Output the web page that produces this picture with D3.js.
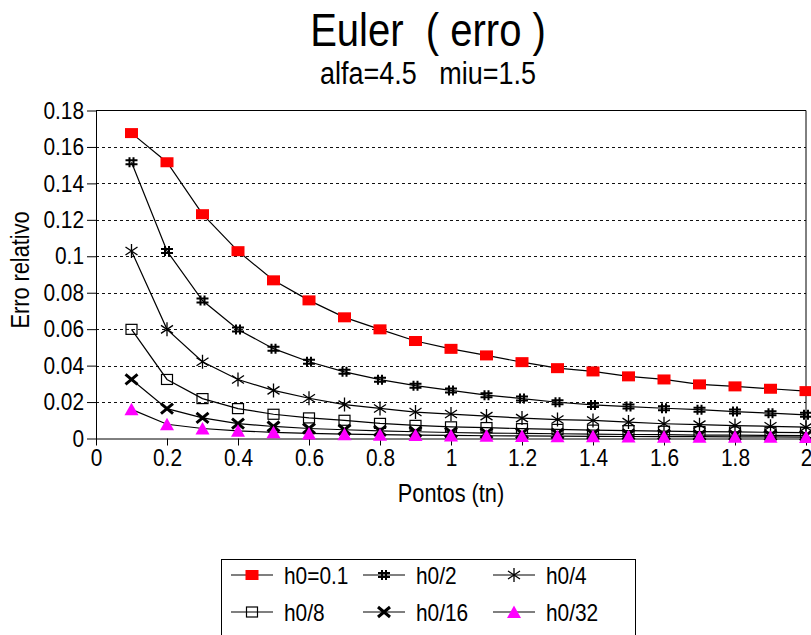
<!DOCTYPE html>
<html>
<head>
<meta charset="utf-8">
<script src="https://cdn.jsdelivr.net/npm/d3@7"></script>
<style>
  html, body { margin: 0; padding: 0; background: #fff; }
  svg { display: block; font-family: "Liberation Sans", Arial, sans-serif; }
</style>
</head>
<body>
<svg id="chart" width="811" height="635"></svg>
<script>
// Time points t_n
const tn = [0.1, 0.2, 0.3, 0.4, 0.5, 0.6, 0.7, 0.8, 0.9, 1.0,
            1.1, 1.2, 1.3, 1.4, 1.5, 1.6, 1.7, 1.8, 1.9, 2.0];

// Relative error of the Euler method for each step size
const errH0 = [0.1676, 0.1516, 0.1231, 0.1028, 0.0868, 0.0758, 0.0665, 0.0599, 0.0535, 0.0492,
               0.0456, 0.0419, 0.0386, 0.0368, 0.0341, 0.0324, 0.0297, 0.0286, 0.0273, 0.0260];
const errH2 = [0.1516, 0.1029, 0.0757, 0.0598, 0.0493, 0.0421, 0.0366, 0.0323, 0.0290, 0.0264,
               0.0238, 0.0219, 0.0199, 0.0184, 0.0175, 0.0166, 0.0158, 0.0148, 0.0139, 0.0130];
const errH4 = [0.1029, 0.0599, 0.0421, 0.0324, 0.0264, 0.0221, 0.0186, 0.0165, 0.0145, 0.0134,
               0.0123, 0.0112, 0.0104, 0.0099, 0.0090, 0.0081, 0.0076, 0.0071, 0.0067, 0.0062];
const errH8 = [0.0599, 0.0324, 0.0219, 0.0164, 0.0133, 0.0113, 0.0100, 0.0083, 0.0072, 0.0064,
               0.0060, 0.0054, 0.0050, 0.0046, 0.0043, 0.0040, 0.0038, 0.0036, 0.0034, 0.0032];
const errH16 = [0.0324, 0.0164, 0.0113, 0.0082, 0.0066, 0.0055, 0.0048, 0.0042, 0.0037, 0.0033,
                0.0030, 0.0028, 0.0026, 0.0024, 0.0022, 0.0021, 0.0019, 0.0018, 0.0017, 0.0016];
const errH32 = [0.0160, 0.0078, 0.0055, 0.0042, 0.0034, 0.0028, 0.0024, 0.0021, 0.0019, 0.0017,
                0.0015, 0.0014, 0.0013, 0.0012, 0.0011, 0.0010, 0.0010, 0.0009, 0.0009, 0.0008];

const seriesNames = ["h0=0.1", "h0/2", "h0/4", "h0/8", "h0/16", "h0/32"];
const markerKinds = ["rect", "hash", "star", "square", "cross", "triangle"];

const xTicks = [0, 0.2, 0.4, 0.6, 0.8, 1, 1.2, 1.4, 1.6, 1.8, 2];
const yTicks = [0, 0.02, 0.04, 0.06, 0.08, 0.1, 0.12, 0.14, 0.16, 0.18];

const series = [errH0, errH2, errH4, errH8, errH16, errH32].map((vals, i) => ({
  name: seriesNames[i],
  kind: markerKinds[i],
  points: vals.map((v, j) => ({ t: tn[j], e: v }))
}));

const svg = d3.select("#chart");

const x = d3.scaleLinear().domain([0, 2]).range([96, 806]);
const y = d3.scaleLinear().domain([0, 0.18]).range([438.5, 110.5]);

// Narrow text: a regular face squeezed horizontally
const SQ = 0.87;
function label(parent, px, py, str, size, anchor, rot) {
  return parent.append("text")
    .attr("transform", `translate(${px},${py})${rot ? ` rotate(${rot})` : ""} scale(${SQ},1)`)
    .attr("text-anchor", anchor || "start")
    .attr("font-size", size)
    .style("white-space", "pre")
    .text(str);
}

// Titles
label(svg, 428, 46, "Euler  ( erro )", 46, "middle");
label(svg, 428, 84, "alfa=4.5   miu=1.5", 31, "middle");

// Horizontal dashed gridlines
svg.append("g")
  .selectAll("line")
  .data(yTicks.filter(d => d > 0 && d < 0.18))
  .join("line")
  .attr("x1", x(0)).attr("x2", x(2))
  .attr("y1", d => Math.round(y(d)) + 0.5).attr("y2", d => Math.round(y(d)) + 0.5)
  .attr("stroke", "#111")
  .attr("stroke-dasharray", "3,3");

// Plot frame (top and right)
svg.append("path")
  .attr("d", `M${x(0)},${y(0.18)}H${x(2)}V${y(0)}`)
  .attr("fill", "none").attr("stroke", "#000");

// Axes
const yAxis = d3.axisLeft(y).tickValues(yTicks)
  .tickFormat(d => String(+d.toFixed(2)))
  .tickSizeInner(9).tickSizeOuter(0).tickPadding(3);
svg.append("g")
  .attr("transform", `translate(${x(0)},0)`)
  .call(yAxis)
  .call(g => g.selectAll("text")
    .attr("font-size", 24).attr("fill", "#000")
    .attr("transform", `scale(${SQ},1)`)
    .attr("x", -12 / SQ))
  .call(g => g.selectAll("line, path").attr("stroke", "#000"));

const xAxis = d3.axisBottom(x).tickValues(xTicks)
  .tickFormat(d => String(+d.toFixed(1)))
  .tickSizeInner(7).tickSizeOuter(0).tickPadding(4);
svg.append("g")
  .attr("transform", `translate(0,${y(0)})`)
  .call(xAxis)
  .call(g => g.selectAll("text")
    .attr("font-size", 24).attr("fill", "#000")
    .attr("transform", `scale(${SQ},1)`)
    .attr("y", 10))
  .call(g => g.selectAll("line, path").attr("stroke", "#000"));

// Axis titles
label(svg, 29, 270, "Erro relativo", 25, "middle", -90);
label(svg, 451, 502, "Pontos (tn)", 25, "middle");

// Marker drawing
function drawMarker(g, kind) {
  switch (kind) {
    case "rect":
      g.append("rect").attr("x", -6.5).attr("y", -5).attr("width", 13).attr("height", 10)
        .attr("fill", "#ff0000");
      break;
    case "hash":
      g.append("path")
        .attr("d", "M-2,-5V5M2,-5V5M-6,-2H6M-6,2H6")
        .attr("stroke", "#000").attr("stroke-width", 2).attr("fill", "none");
      break;
    case "star":
      g.append("path")
        .attr("d", "M0,-7V7M-6,-4L6,4M-6,4L6,-4")
        .attr("stroke", "#000").attr("stroke-width", 1.3).attr("fill", "none");
      break;
    case "square":
      g.append("rect").attr("x", -5.5).attr("y", -5).attr("width", 11).attr("height", 10)
        .attr("fill", "none").attr("stroke", "#000").attr("stroke-width", 1.2);
      break;
    case "cross":
      g.append("path")
        .attr("d", "M-6,-5L6,5M-6,5L6,-5")
        .attr("stroke", "#000").attr("stroke-width", 3).attr("fill", "none");
      break;
    case "triangle":
      g.append("path")
        .attr("d", "M0,-6.5L7,6L-7,6Z")
        .attr("fill", "#ff00ff");
      break;
  }
}

const line = d3.line().x(d => x(d.t)).y(d => y(d.e));

const plot = svg.append("g");
// lines first, then markers on top
series.forEach(s => {
  plot.append("path").datum(s.points)
    .attr("d", line)
    .attr("fill", "none").attr("stroke", "#000").attr("stroke-width", 1.2);
});
series.forEach(s => {
  plot.append("g").selectAll("g")
    .data(s.points)
    .join("g")
    .attr("transform", d => `translate(${x(d.t)},${y(d.e)})`)
    .each(function () { drawMarker(d3.select(this), s.kind); });
});

// Legend
const legend = svg.append("g");
legend.append("rect")
  .attr("x", 221.5).attr("y", 559.5).attr("width", 414).attr("height", 90)
  .attr("fill", "#fff").attr("stroke", "#000");
const colX = [231, 363, 493];
const rowY = [575, 612];
series.forEach((s, i) => {
  const cx = colX[i % 3], cy = rowY[Math.floor(i / 3)];
  const item = legend.append("g").attr("transform", `translate(${cx},${cy})`);
  item.append("line").attr("x1", 0).attr("x2", 42).attr("y1", 0).attr("y2", 0)
    .attr("stroke", "#000").attr("stroke-width", 1.2);
  drawMarker(item.append("g").attr("transform", "translate(21,0)"), s.kind);
  label(item, 53, 8.5, s.name, 24, "start");
});
</script>
</body>
</html>
